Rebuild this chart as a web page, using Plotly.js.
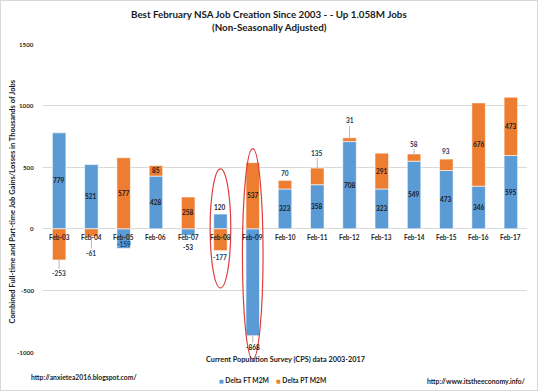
<!DOCTYPE html>
<html>
<head>
<meta charset="utf-8">
<script src="https://cdn.plot.ly/plotly-3.0.1.min.js"></script>
<style>
html,body{margin:0;padding:0;background:#fff;}
#wrap{position:relative;width:538px;height:391px;}
#chart{width:538px;height:391px;}
#frame{position:absolute;left:0;top:0;width:538px;height:391px;box-sizing:border-box;border:1px solid #d9d9d9;pointer-events:none;}
</style>
</head>
<body>
<div id="wrap"><div id="chart"></div><div id="frame"></div></div>
<script>
// ---- data ----
const categories = ['Feb-03','Feb-04','Feb-05','Feb-06','Feb-07','Feb-08','Feb-09','Feb-10','Feb-11','Feb-12','Feb-13','Feb-14','Feb-15','Feb-16','Feb-17'];
const ftValues = [779, 521, -159, 428, -53, 120, -868, 323, 358, 708, 323, 549, 473, 346, 595];
const ptValues = [-253, -61, 577, 85, 258, -177, 537, 70, 135, 31, 291, 58, 93, 676, 473];
const seriesNames = ['Delta FT M2M', 'Delta PT M2M'];
const yTicks = [-1000, -500, 0, 500, 1000, 1500];
const highlighted = ['Feb-08', 'Feb-09'];
const titleLines = ['Best February NSA Job Creation Since 2003 - - Up 1.058M Jobs', '(Non-Seasonally Adjusted)'];
const yTitle = 'Combined Full-time and Part-time Job Gains/Losses in Thousands of Jobs';
const xTitle = 'Current Population Survey (CPS) data 2003-2017';

// ---- styling ----
const FONT = 'Lato, "Open Sans", "DejaVu Sans", sans-serif';
const BLUE = '#5B9BD5', ORANGE = '#ED7D31';
const IN_COLOR = '#1a1a1a', OUT_COLOR = '#203864';
const W = 538, H = 391;
const M = {l: 43, r: 11, t: 44, b: 39};
const Y_RANGE = [-1000, 1500];
const LBL = 6.5;
// label styles: 'in' = centred in segment; {off: px, lead: bool, color} = at segment end
const ftStyle = ['in','in',{off:-4,lead:false,color:OUT_COLOR},'in',{off:12,lead:false,color:IN_COLOR},{off:-7,lead:false,color:IN_COLOR},{off:12,lead:true,color:IN_COLOR},'in','in','in','in','in','in','in','in'];
const ptStyle = [{off:14,lead:true,color:OUT_COLOR},{off:17,lead:true,color:OUT_COLOR},'in','in','in',{off:7,lead:false,color:OUT_COLOR},'in',{off:-7,lead:false,color:OUT_COLOR},{off:-15,lead:true,color:OUT_COLOR},{off:-17,lead:true,color:OUT_COLOR},'in',{off:-10,lead:true,color:OUT_COLOR},{off:-8,lead:false,color:OUT_COLOR},'in','in'];
const ellipseSpan = {'Feb-08': [-480, 487], 'Feb-09': [-1060, 650]};

const plotW = W - M.l - M.r, plotH = H - M.t - M.b;
const px2paperX = px => (px - M.l) / plotW;
const px2paperY = py => (H - M.b - py) / plotH;
const val2paperY = v => (v - Y_RANGE[0]) / (Y_RANGE[1] - Y_RANGE[0]);

const colors = [BLUE, ORANGE];
const traces = [ftValues, ptValues].map((vals, k) => ({
  type:'bar', name: seriesNames[k], x: categories, y: vals,
  marker:{color: colors[k], line:{color:'#ffffff', width:0.6}}, hoverinfo:'none'
}));

const annotations = [];
const lblFont = c => ({family: FONT, size: LBL, color: c, weight: 'bold'});

function addLabel(cat, value, base, end, style) {
  if (style === 'in') {
    annotations.push({x: cat, y: (base + end) / 2, xref:'x', yref:'y', text: String(value),
      showarrow:false, xanchor:'center', yanchor:'middle', font: lblFont(IN_COLOR)});
  } else {
    annotations.push({x: cat, y: end, xref:'x', yref:'y', text: String(value),
      showarrow: style.lead, arrowhead:0, arrowwidth:0.8, arrowcolor:'#a6a6a6', standoff:0,
      ax:0, ay: style.off, yshift: style.lead ? 0 : -style.off, xanchor:'center', yanchor:'middle',
      font: lblFont(style.color)});
  }
}

categories.forEach((cat, i) => {
  const ft = ftValues[i], pt = ptValues[i];
  addLabel(cat, ft, 0, ft, ftStyle[i]);
  const same = (ft >= 0) === (pt >= 0);
  const base = same ? ft : 0;
  addLabel(cat, pt, base, base + pt, ptStyle[i]);
  annotations.push({x: cat, y: 0, xref:'x', yref:'y', xanchor:'center', yanchor:'top', yshift:-3,
    text: cat, showarrow:false, font:{family: FONT, size: LBL, color:'#262626', weight:'bold'}});
});

// y tick labels on the y scale
yTicks.forEach(v => annotations.push({xref:'paper', yref:'y', x: px2paperX(36), y: v, xanchor:'right', yanchor:'middle',
  text: String(v), showarrow:false, font:{family: FONT, size: 6.2, color:'#262626', weight:'bold'}}));

function pageText(text, px, py, size, xanchor, angle) {
  annotations.push({xref:'paper', yref:'paper', x: px2paperX(px), y: px2paperY(py), xanchor: xanchor || 'center', yanchor:'middle',
    textangle: angle || 0,
    text: text, showarrow:false, font:{family: FONT, size: size, color:'#1a1a1a', weight:'bold'}});
}

// titles
pageText(titleLines[0], 269, 14, 9.8);
pageText(titleLines[1], 269, 27.5, 9.8);
pageText(yTitle, 11.5, 202, 7.5, 'center', -90);
pageText(xTitle, 285, 359, 7.3);
pageText('http://anxietea2016.blogspot.com/', 29, 377, 6.8, 'left');
pageText('http://www.itstheeconomy.info/', 527, 381, 6.8, 'right');

// legend
const legendX = [217, 274];
seriesNames.forEach((n, k) => pageText('<span style="color:' + colors[k] + ';font-family:DejaVu Sans;font-size:5px">■</span> ' + n,
  legendX[k], 380, 6.7, 'left'));

const shapes = highlighted.map(cat => {
  const i = categories.indexOf(cat);
  const span = ellipseSpan[cat];
  return {type:'circle', xref:'x', yref:'paper', x0: i - 0.32, x1: i + 0.32,
    y0: val2paperY(span[0]), y1: val2paperY(span[1]),
    line:{color:'#e03c3c', width:1.2}, fillcolor:'rgba(0,0,0,0)', layer:'above'};
});

const layout = {
  width: W, height: H,
  margin: M,
  paper_bgcolor:'#ffffff', plot_bgcolor:'#ffffff',
  barmode:'relative', bargap:0.58,
  showlegend:false,
  xaxis:{type:'category', range:[-0.5, categories.length - 0.5], showticklabels:false, showgrid:false,
    zeroline:false, showline:false, ticks:'', fixedrange:true},
  yaxis:{range: Y_RANGE, tickvals: yTicks, showticklabels:false, showgrid:true, gridcolor:'#d9d9d9', gridwidth:1,
    zeroline:false, showline:false, ticks:'', automargin:false, fixedrange:true},
  annotations: annotations,
  shapes: shapes
};

Plotly.newPlot('chart', traces, layout, {displayModeBar:false, staticPlot:true});
</script>
</body>
</html>
